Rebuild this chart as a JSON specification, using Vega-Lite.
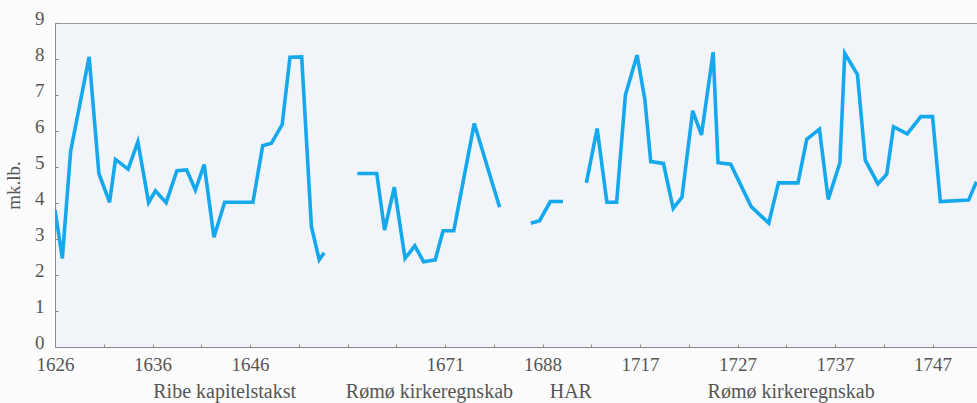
{
  "$schema": "https://vega.github.io/schema/vega-lite/v6.json",
  "width": 922,
  "height": 324,
  "autosize": "none",
  "padding": {"left": 55, "top": 23, "right": 0, "bottom": 56},
  "background": "#fcfcfc",
  "config": {
    "font": "Liberation Serif",
    "view": {"fill": "#f1f5fa", "stroke": "#9a9a9a", "strokeWidth": 1},
    "axis": {
      "labelFont": "Liberation Serif",
      "titleFont": "Liberation Serif",
      "labelFontSize": 19,
      "titleFontSize": 19,
      "titleFontWeight": "normal",
      "labelColor": "#555555",
      "titleColor": "#555555",
      "domainColor": "#8a8a8a",
      "tickColor": "#8a8a8a",
      "grid": false,
      "tickSize": -3,
      "labelFlush": false,
      "labelOverlap": false
    },
    "axisX": {"labelPadding": 11},
    "axisY": {"labelPadding": 14, "titlePadding": 11, "labelBaseline": "alphabetic", "labelOffset": 1}
  },
  "datasets": {
    "prices": [
      {"seg": "Ribe", "t": 0, "v": 3.81},
      {"seg": "Ribe", "t": 0.75, "v": 2.46},
      {"seg": "Ribe", "t": 1.6, "v": 5.43},
      {"seg": "Ribe", "t": 3.5, "v": 8.06},
      {"seg": "Ribe", "t": 4.5, "v": 4.82},
      {"seg": "Ribe", "t": 5.6, "v": 4.02},
      {"seg": "Ribe", "t": 6.2, "v": 5.21},
      {"seg": "Ribe", "t": 7.5, "v": 4.94},
      {"seg": "Ribe", "t": 8.5, "v": 5.7},
      {"seg": "Ribe", "t": 9.6, "v": 4.01},
      {"seg": "Ribe", "t": 10.3, "v": 4.34},
      {"seg": "Ribe", "t": 11.4, "v": 4.01},
      {"seg": "Ribe", "t": 12.5, "v": 4.9},
      {"seg": "Ribe", "t": 13.5, "v": 4.92},
      {"seg": "Ribe", "t": 14.4, "v": 4.36},
      {"seg": "Ribe", "t": 15.3, "v": 5.07},
      {"seg": "Ribe", "t": 16.3, "v": 3.05},
      {"seg": "Ribe", "t": 17.4, "v": 4.02},
      {"seg": "Ribe", "t": 20.3, "v": 4.02},
      {"seg": "Ribe", "t": 21.3, "v": 5.59},
      {"seg": "Ribe", "t": 22.2, "v": 5.66},
      {"seg": "Ribe", "t": 23.3, "v": 6.18},
      {"seg": "Ribe", "t": 24.1, "v": 8.05},
      {"seg": "Ribe", "t": 25.3, "v": 8.06},
      {"seg": "Ribe", "t": 26.3, "v": 3.34},
      {"seg": "Ribe", "t": 27.1, "v": 2.42},
      {"seg": "Ribe", "t": 27.6, "v": 2.62},
      {"seg": "Rømø 1", "t": 31.0, "v": 4.82},
      {"seg": "Rømø 1", "t": 33.0, "v": 4.82},
      {"seg": "Rømø 1", "t": 33.8, "v": 3.25},
      {"seg": "Rømø 1", "t": 34.8, "v": 4.44},
      {"seg": "Rømø 1", "t": 35.9, "v": 2.46},
      {"seg": "Rømø 1", "t": 36.9, "v": 2.81},
      {"seg": "Rømø 1", "t": 37.8, "v": 2.37},
      {"seg": "Rømø 1", "t": 39.0, "v": 2.42},
      {"seg": "Rømø 1", "t": 39.8, "v": 3.23},
      {"seg": "Rømø 1", "t": 40.9, "v": 3.23},
      {"seg": "Rømø 1", "t": 43.0, "v": 6.21},
      {"seg": "Rømø 1", "t": 45.6, "v": 3.88},
      {"seg": "HAR", "t": 48.8, "v": 3.44},
      {"seg": "HAR", "t": 49.7, "v": 3.51},
      {"seg": "HAR", "t": 50.8, "v": 4.04},
      {"seg": "HAR", "t": 52.1, "v": 4.04},
      {"seg": "Rømø 2", "t": 54.5, "v": 4.56},
      {"seg": "Rømø 2", "t": 55.6, "v": 6.07},
      {"seg": "Rømø 2", "t": 56.6, "v": 4.02},
      {"seg": "Rømø 2", "t": 57.6, "v": 4.02},
      {"seg": "Rømø 2", "t": 58.5, "v": 7.0},
      {"seg": "Rømø 2", "t": 59.7, "v": 8.11},
      {"seg": "Rømø 2", "t": 60.5, "v": 6.86},
      {"seg": "Rømø 2", "t": 61.1, "v": 5.15},
      {"seg": "Rømø 2", "t": 62.4, "v": 5.1},
      {"seg": "Rømø 2", "t": 63.4, "v": 3.85},
      {"seg": "Rømø 2", "t": 64.3, "v": 4.16},
      {"seg": "Rømø 2", "t": 65.4, "v": 6.56},
      {"seg": "Rømø 2", "t": 66.3, "v": 5.89},
      {"seg": "Rømø 2", "t": 67.5, "v": 8.19},
      {"seg": "Rømø 2", "t": 68.0, "v": 5.12},
      {"seg": "Rømø 2", "t": 69.3, "v": 5.08},
      {"seg": "Rømø 2", "t": 71.4, "v": 3.9},
      {"seg": "Rømø 2", "t": 73.2, "v": 3.44},
      {"seg": "Rømø 2", "t": 74.2, "v": 4.56},
      {"seg": "Rømø 2", "t": 76.2, "v": 4.56},
      {"seg": "Rømø 2", "t": 77.1, "v": 5.77},
      {"seg": "Rømø 2", "t": 78.4, "v": 6.05},
      {"seg": "Rømø 2", "t": 79.3, "v": 4.1},
      {"seg": "Rømø 2", "t": 80.5, "v": 5.12},
      {"seg": "Rømø 2", "t": 81.0, "v": 8.16},
      {"seg": "Rømø 2", "t": 82.3, "v": 7.57},
      {"seg": "Rømø 2", "t": 83.1, "v": 5.19},
      {"seg": "Rømø 2", "t": 84.4, "v": 4.53},
      {"seg": "Rømø 2", "t": 85.3, "v": 4.8},
      {"seg": "Rømø 2", "t": 86.0, "v": 6.12},
      {"seg": "Rømø 2", "t": 87.4, "v": 5.92},
      {"seg": "Rømø 2", "t": 88.8, "v": 6.4},
      {"seg": "Rømø 2", "t": 90.0, "v": 6.4},
      {"seg": "Rømø 2", "t": 90.8, "v": 4.04},
      {"seg": "Rømø 2", "t": 93.7, "v": 4.08},
      {"seg": "Rømø 2", "t": 94.5, "v": 4.59}
    ],
    "sources": [
      {"source": "Ribe kapitelstakst", "t": 17.4},
      {"source": "Rømø kirkeregnskab", "t": 38.4},
      {"source": "HAR", "t": 52.9},
      {"source": "Rømø kirkeregnskab", "t": 75.5}
    ]
  },
  "encoding": {
    "x": {
      "field": "t",
      "type": "quantitative",
      "scale": {"domain": [0, 94.56], "nice": false, "zero": false},
      "axis": {
        "title": null,
        "values": [0, 5, 10, 15, 20, 25, 30, 35, 40, 45, 50, 55, 60, 65, 70, 75, 80, 85, 90],
        "labelExpr": "datum.value == 0 ? '1626' : datum.value == 10 ? '1636' : datum.value == 20 ? '1646' : datum.value == 40 ? '1671' : datum.value == 50 ? '1688' : datum.value == 60 ? '1717' : datum.value == 70 ? '1727' : datum.value == 80 ? '1737' : datum.value == 90 ? '1747' : ''"
      }
    }
  },
  "layer": [
    {
      "data": {"name": "prices"},
      "mark": {"type": "line", "color": "#16a8ec", "strokeWidth": 3.6, "strokeJoin": "miter", "clip": true},
      "encoding": {
        "y": {
          "field": "v",
          "type": "quantitative",
          "scale": {"domain": [0, 9], "nice": false},
          "axis": {"title": "mk.lb.", "values": [0, 1, 2, 3, 4, 5, 6, 7, 8, 9]}
        },
        "detail": {"field": "seg"}
      }
    },
    {
      "data": {"name": "sources"},
      "mark": {"type": "text", "font": "Liberation Serif", "fontSize": 20, "color": "#555555", "baseline": "alphabetic", "align": "center", "clip": false},
      "encoding": {
        "y": {
          "datum": -1.42,
          "type": "quantitative",
          "scale": {"domain": [0, 9], "nice": false},
          "axis": {"title": "mk.lb.", "values": [0, 1, 2, 3, 4, 5, 6, 7, 8, 9]}
        },
        "text": {"field": "source"}
      }
    }
  ]
}
